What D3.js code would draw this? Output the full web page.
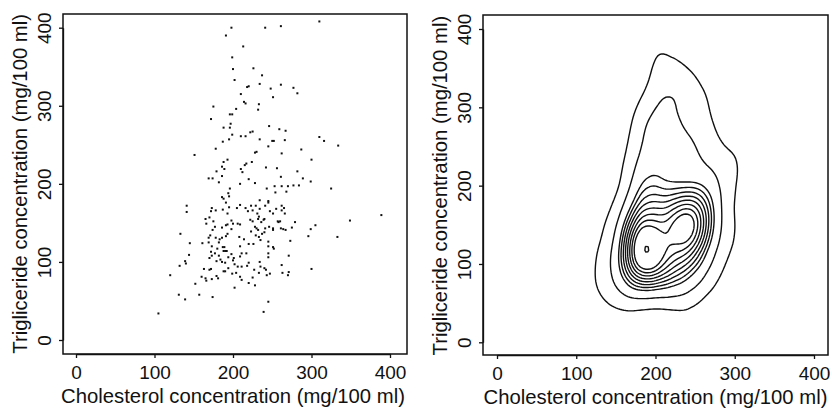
<!DOCTYPE html>
<meta charset="utf-8">
<style>
body { margin: 0; background: #fff; font-family: "Liberation Sans", Arial, sans-serif; }
.axis path, .axis line { fill: none; stroke: #111; stroke-width: 1.3; }
.axis text { font-size: 19px; fill: #111; }
.frame { fill: none; stroke: #111; stroke-width: 1.5; }
.title { font-size: 20.3px; fill: #111; text-anchor: middle; }
.contour { fill: none; stroke: #111; stroke-width: 1.4; }
</style>
<body>
<div id="chart"></div>
<script src="https://d3js.org/d3.v7.min.js"></script>
<script>

// cholesterol / triglyceride pairs
var cholesterol = [
 198,191,241,261,310,213,199,200,202,226,237,210,220,218,214,216,234,261,248,251,
 277,282,233,232,175,172,204,196,199,188,197,196,195,187,199,210,216,222,225,234,
 246,250,252,259,267,266,151,178,193,188,228,230,245,262,287,300,310,316,334,169,
 174,179,182,186,189,186,210,212,215,217,224,220,228,209,242,243,253,254,256,261,
 262,270,268,277,282,284,289,299,325,196,194,195,186,188,191,141,141,173,172,178,
 195,193,205,209,216,219,223,234,245,245,234,231,241,251,255,262,265,262,266,187,
 225,229,247,165,170,166,175,177,174,171,186,191,193,198,200,206,209,208,198,193,
 191,186,183,178,169,169,161,133,145,173,182,187,189,192,190,188,180,172,177,170,
 173,182,184,179,186,190,194,198,200,201,202,194,188,190,179,181,170,172,163,160,
 165,166,173,152,131,139,157,174,120,132,140,139,144,105,202,209,211,199,204,206,
 211,218,220,209,211,217,214,220,226,209,223,228,230,232,222,225,233,232,236,239,
 240,229,235,233,237,241,240,246,251,251,245,245,252,251,257,258,260,261,264,267,
 273,279,275,245,245,234,235,240,242,247,243,227,233,225,220,228,245,239,262,263,
 271,270,271,300,296,299,305,333,349,389
];
var triglyceride = [
 400,390,400,402,408,376,362,347,333,348,339,315,325,324,305,303,328,327,322,311,
 323,316,302,295,299,283,296,289,289,272,277,272,257,254,263,261,261,266,267,257,
 274,255,255,270,268,256,237,245,231,228,240,241,248,239,244,231,260,255,249,207,
 207,216,202,222,219,210,219,215,224,226,228,206,201,200,221,194,197,189,220,209,
 197,197,190,198,216,198,207,203,194,194,188,184,183,181,176,172,164,169,165,166,
 170,162,169,173,169,165,172,179,178,176,168,162,172,162,168,172,169,166,162,167,
 166,172,165,155,157,149,152,145,141,134,144,147,148,153,149,149,148,132,142,136,
 133,131,129,131,131,125,124,136,124,120,125,119,119,114,114,114,117,113,111,105,
 108,108,103,101,100,99,106,110,102,105,97,92,88,88,82,79,90,91,91,81,
 79,76,78,72,58,52,58,55,83,95,98,101,109,34,67,81,77,85,86,94,
 94,95,99,107,111,111,129,123,123,120,139,145,143,141,154,152,158,155,151,154,
 155,134,128,132,136,143,138,145,143,141,126,120,117,119,152,151,152,143,142,141,
 127,151,144,111,106,100,94,92,90,85,83,90,86,80,73,70,49,36,96,86,
 87,83,108,91,133,142,147,132,153,160
];

var xTicks = [0, 100, 200, 300, 400];
var yTicks = [0, 100, 200, 300, 400];
var xTitle = "Cholesterol concentration (mg/100 ml)";
var yTitle = "Trigliceride concentration (mg/100 ml)";

// kernel widths in data units (cholesterol, triglyceride)
var bandwidths = [15, 24];
// contour levels as fractions of the peak density, matched to the drawn rings
var levelFractions = [0.13, 0.28, 0.43, 0.489, 0.549, 0.608, 0.667, 0.727, 0.786, 0.845, 0.997];

var data = cholesterol.map(function(c, i) { return [c, triglyceride[i]]; });

var svg = d3.select("#chart").append("svg")
  .attr("width", 832)
  .attr("height", 410);

var panels = [
  {left: 63, top: 14, right: 407, bottom: 354, xr: [76, 390], yr: [340, 27.7], kind: "points"},
  {left: 483, top: 15, right: 828, bottom: 355, xr: [497, 814], yr: [342.3, 29], kind: "contour"}
];

panels.forEach(function(p) {
  var x = d3.scaleLinear().domain([0, 400]).range(p.xr);
  var y = d3.scaleLinear().domain([0, 400]).range(p.yr);
  var g = svg.append("g");

  if (p.kind === "points") {
    g.selectAll("rect.pt")
      .data(data)
      .enter().append("rect")
      .attr("class", "pt")
      .attr("x", function(d) { return x(d[0]) - 1; })
      .attr("y", function(d) { return y(d[1]) - 1; })
      .attr("width", 2)
      .attr("height", 2)
      .style("fill", "#111");
  } else {
    var w = p.right - p.left, h = p.bottom - p.top;
    var bwx = bandwidths[0] * (x(1) - x(0));
    var bwy = bandwidths[1] * (y(0) - y(1));
    var k = bwx / bwy;   // squeeze y so one isotropic kernel fits both widths
    var dens = d3.contourDensity()
      .x(function(d) { return x(d[0]) - p.left; })
      .y(function(d) { return (y(d[1]) - p.top) * k; })
      .size([w, Math.ceil(h * k)])
      .cellSize(2)
      .bandwidth(bwx);
    var cf = dens.contours(data);
    var unsqueeze = d3.geoTransform({
      point: function(px, py) { this.stream.point(px, py / k); }
    });
    g.append("g")
      .attr("transform", "translate(" + p.left + "," + p.top + ")")
      .selectAll("path")
      .data(levelFractions.map(function(f) { return cf(f * cf.max); }))
      .enter().append("path")
      .attr("class", "contour")
      .attr("d", d3.geoPath(unsqueeze));
  }

  // frame
  g.append("rect")
    .attr("class", "frame")
    .attr("x", p.left)
    .attr("y", p.top)
    .attr("width", p.right - p.left)
    .attr("height", p.bottom - p.top);

  // x axis
  g.append("g")
    .attr("class", "axis")
    .attr("transform", "translate(0," + p.bottom + ")")
    .call(d3.axisBottom(x).tickValues(xTicks).tickSize(4).tickSizeOuter(0).tickPadding(8));

  // y axis, labels turned like the original
  var ya = g.append("g")
    .attr("class", "axis")
    .attr("transform", "translate(" + p.left + ",0)")
    .call(d3.axisLeft(y).tickValues(yTicks).tickSize(4).tickSizeOuter(0));
  ya.selectAll("text")
    .attr("x", null).attr("dy", null)
    .attr("text-anchor", "middle")
    .attr("transform", "translate(-12,0) rotate(-90)");

  g.append("text")
    .attr("class", "title")
    .attr("x", x(200))
    .attr("y", p.bottom + 49)
    .text(xTitle);

  g.append("text")
    .attr("class", "title")
    .attr("transform", "translate(" + (p.left - 36) + "," + y(200) + ") rotate(-90)")
    .text(yTitle);
});

</script>
</body>
